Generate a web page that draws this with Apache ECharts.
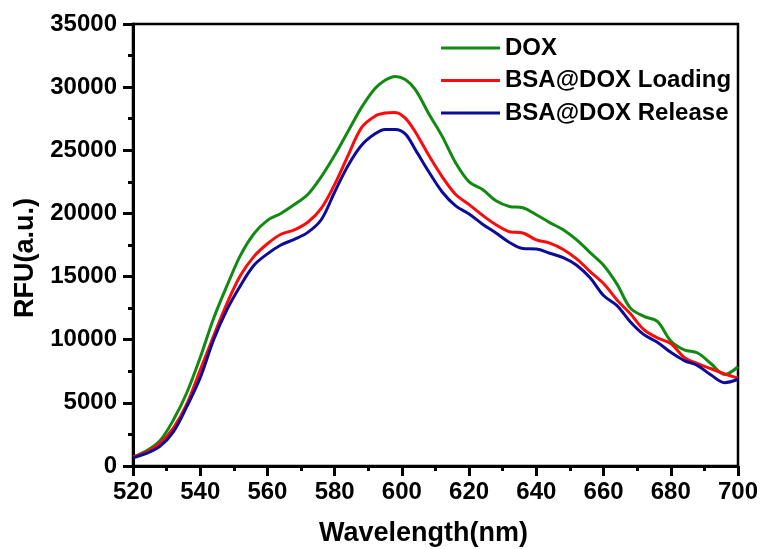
<!DOCTYPE html>
<html>
<head>
<meta charset="utf-8">
<script src="https://cdn.jsdelivr.net/npm/echarts@6/dist/echarts.min.js"></script>
<style>html,body{margin:0;padding:0;background:#fff;}#c{width:764px;height:549px;}</style>
</head>
<body>
<div id="c"></div>
<script>
var wavelengths = [520,524,528,532,536,540,544,548,552,556,560,564,568,572,576,580,584,588,592,595,598,601,604,608,612,616,620,624,628,632,636,640,644,648,652,656,660,664,668,672,676,680,684,688,692,696,700];
var doxValues = [700,1200,2000,3640,5800,8600,11700,14300,16700,18400,19450,20000,20700,21500,22900,24600,26500,28400,29900,30550,30850,30600,29800,27900,26100,24000,22500,21900,21000,20550,20450,19900,19270,18700,17900,16900,15900,14400,12500,11850,11450,9900,9200,8950,8100,7250,7860];
var loadingValues = [700,1100,1800,3000,4900,7600,10300,12900,15100,16600,17600,18350,18700,19300,20400,22300,24600,26800,27700,27950,28000,27550,26450,24600,22900,21500,20700,19850,19100,18550,18450,17900,17650,17150,16400,15400,14450,13150,12050,10800,10150,9700,8600,8100,7700,7300,6960];
var releaseValues = [650,1000,1550,2700,4700,7000,10000,12400,14300,15900,16800,17500,17950,18500,19500,21700,23800,25400,26300,26650,26650,26300,25050,23300,21700,20600,19950,19150,18450,17700,17220,17180,16850,16500,15900,14900,13500,12700,11400,10400,9800,9000,8350,7950,7200,6600,6870];
var seriesNames = ['DOX','BSA@DOX Loading','BSA@DOX Release'];
var seriesColors = ['#118a11','#ff0a0a','#0c0c98'];
var xTicks = {min:520, max:700, interval:20};
var yTicks = {min:0, max:35000, interval:5000};

function pairs(vals){ return wavelengths.map(function(w,i){ return [w, vals[i]]; }); }
var allVals = [doxValues, loadingValues, releaseValues];
var FONT = "'Liberation Sans', Arial, sans-serif";
var chart = echarts.init(document.getElementById('c'));
chart.setOption({
  animation:false,
  backgroundColor:'#fff',
  grid:{left:133, right:26, top:24, bottom:83, containLabel:false, outerBoundsMode:'none', show:true, borderColor:'#000', borderWidth:2.5, backgroundColor:'transparent'},
  legend:{
    orient:'vertical', left:436, top:31, icon:'rect', itemWidth:59, itemHeight:3, itemGap:8.5,
    data:seriesNames,
    textStyle:{fontFamily:FONT, fontWeight:'bold', fontSize:24, lineHeight:24, color:'#000'}
  },
  xAxis:{
    type:'value', min:xTicks.min, max:xTicks.max, interval:xTicks.interval,
    name:'Wavelength(nm)', nameLocation:'middle', nameGap:54,
    nameTextStyle:{fontFamily:FONT, fontWeight:'bold', fontSize:27, color:'#000', padding:[0,24,0,0]},
    axisLine:{show:true, onZero:false, lineStyle:{color:'#000', width:3}},
    axisTick:{show:true, inside:false, length:10, lineStyle:{color:'#000', width:3}},
    minorTick:{show:true, splitNumber:2, length:5, lineStyle:{color:'#000', width:3}},
    splitLine:{show:false},
    axisLabel:{margin:14, fontFamily:FONT, fontWeight:'bold', fontSize:24, color:'#000', formatter:function(v){return String(v);}}
  },
  yAxis:{
    type:'value', min:yTicks.min, max:yTicks.max, interval:yTicks.interval,
    name:'RFU(a.u.)', nameLocation:'middle', nameGap:90,
    nameTextStyle:{fontFamily:FONT, fontWeight:'bold', fontSize:27, color:'#000', padding:[0,26,0,0]},
    axisLine:{show:true, onZero:false, lineStyle:{color:'#000', width:3}},
    axisTick:{show:true, inside:false, length:10, lineStyle:{color:'#000', width:3}},
    minorTick:{show:true, splitNumber:2, length:5, lineStyle:{color:'#000', width:3}},
    splitLine:{show:false},
    axisLabel:{margin:16, fontFamily:FONT, fontWeight:'bold', fontSize:24, color:'#000', formatter:function(v){return String(v);}}
  },
  series: seriesNames.map(function(n,i){
    return {name:n, type:'line', data:pairs(allVals[i]), smooth:0.35, showSymbol:false, symbol:'none',
      color:seriesColors[i], lineStyle:{width:3, color:seriesColors[i]}};
  })
});
</script>
</body>
</html>
